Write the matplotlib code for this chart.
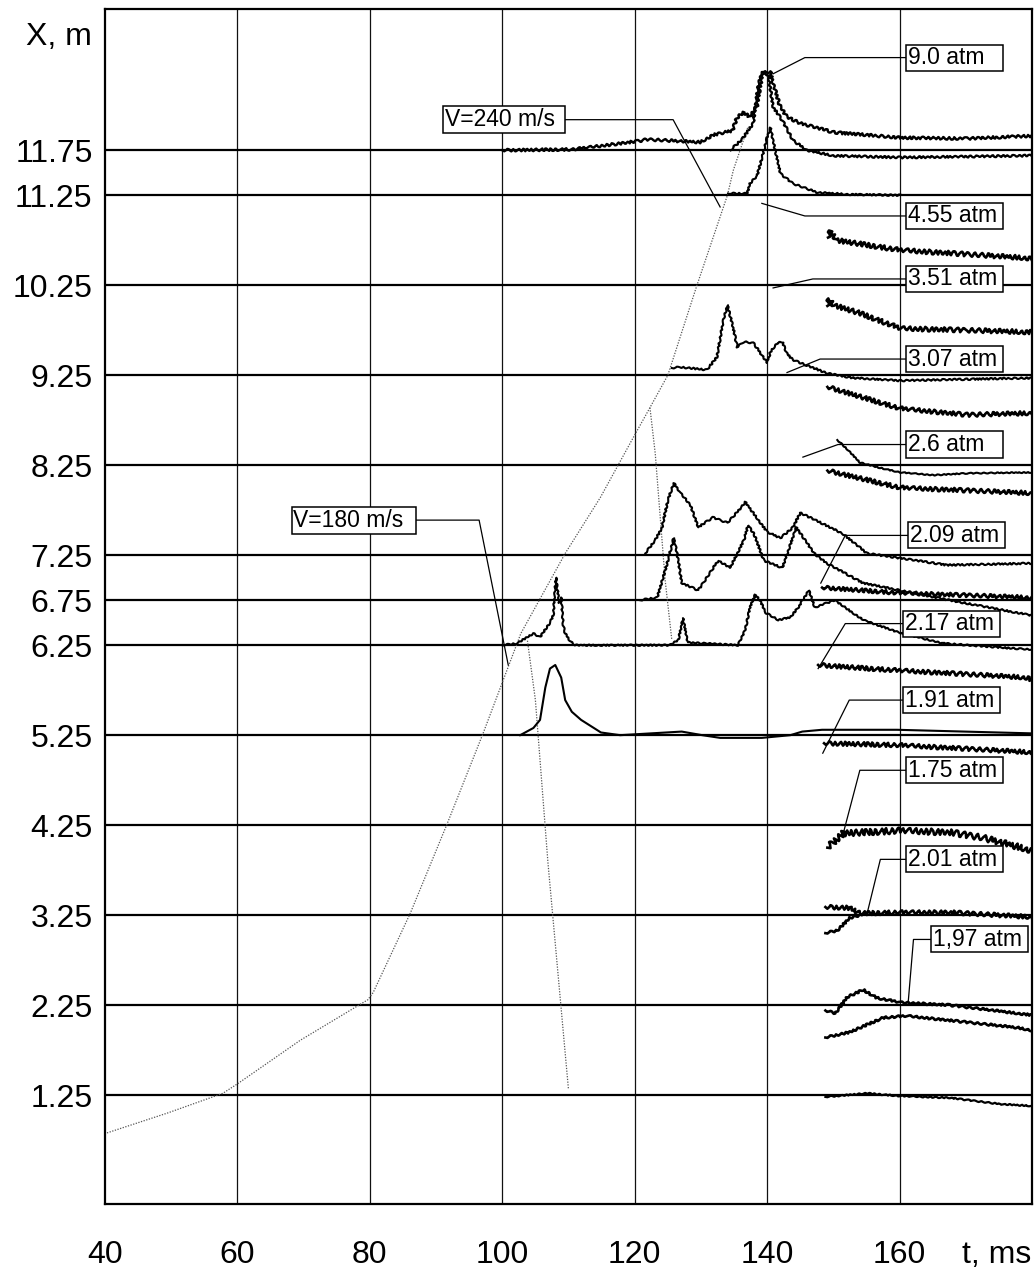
import matplotlib
matplotlib.use("Agg")
import matplotlib.pyplot as plt
from matplotlib.patches import Rectangle

plt.rcParams["font.family"] = ["Liberation Sans", "DejaVu Sans"]

# ---- data (t in ms, X in m) -------------------------------------------------
baselines = [11.75, 11.25, 10.25, 9.25, 8.25, 7.25, 6.75, 6.25, 5.25, 4.25, 3.25, 2.25, 1.25]
ytick_labels = ["11.75", "11.25", "10.25", "9.25", "8.25", "7.25", "6.75", "6.25",
                "5.25", "4.25", "3.25", "2.25", "1.25"]
xticks = [40, 60, 80, 100, 120, 140, 160]
xgrid = [60, 80, 100, 120, 140, 160]

# dotted trajectories
traj_240_t = [40.3, 49.4, 57.8, 60.1, 69.5, 79.7, 80.5, 86.1, 91.7, 97.1, 102.8, 109.5,
              114.8, 119.8, 122.3, 125.0, 129.4, 134.0, 134.9, 137.1]
traj_240_x = [0.83, 1.05, 1.27, 1.38, 1.86, 2.31, 2.39, 3.27, 4.27, 5.27, 6.38, 7.27,
              7.89, 8.56, 8.89, 9.25, 10.25, 11.25, 11.53, 12.01]
refl_upper_t = [122.3, 123.1, 124.6, 125.6]
refl_upper_x = [8.89, 8.38, 6.97, 6.31]
refl_lower_t = [103.8, 105.0, 106.9, 110.0]
refl_lower_x = [6.30, 5.64, 3.83, 1.31]

# pressure traces
tr_a_t = [100, 110.7, 120.4, 121.9, 129.9, 131.8, 134.8, 135.4, 136.4, 137.4, 138.5, 138.9,
          139.4, 140.5, 140.9, 142.0, 143.0, 145.0, 150.0, 160.1, 170.2, 180]
tr_a_x = [11.75, 11.76, 11.85, 11.87, 11.84, 11.92, 11.97, 12.11, 12.17, 12.12, 12.25, 12.45,
          12.62, 12.62, 12.49, 12.23, 12.12, 12.05, 11.95, 11.89, 11.88, 11.91]
tr_b_t = [134.5, 136.4, 137.9, 138.6, 139.2, 140.2, 140.9, 142.3, 143.9, 146.0, 150.0, 160.1, 180]
tr_b_x = [11.75, 11.89, 12.05, 12.45, 12.62, 12.58, 12.23, 12.08, 11.86, 11.75, 11.69, 11.67, 11.69]
tr_c_t = [134.1, 137.0, 137.4, 138.5, 139.4, 140.0, 140.5, 140.9, 142.0, 143.9, 147.6, 152.5, 160.1]
tr_c_x = [11.27, 11.27, 11.38, 11.47, 11.72, 11.89, 12.0, 11.86, 11.49, 11.38, 11.28, 11.26, 11.25]
tr_d_t = [125.6, 126.9, 130.9, 132.4, 133.4, 134.0, 134.7, 135.5, 136.4, 137.9, 140.0, 140.5,
          141.5, 142.3, 143.0, 143.9, 146.0, 149.1, 153.0, 160.1, 180]
tr_d_x = [9.33, 9.34, 9.31, 9.45, 9.86, 10.03, 9.83, 9.56, 9.62, 9.61, 9.39, 9.51,
          9.61, 9.62, 9.49, 9.42, 9.36, 9.27, 9.22, 9.19, 9.22]
tr_e_t = [150.6, 152.2, 154.0, 157.1, 160.1, 165.1, 170.2, 180]
tr_e_x = [8.53, 8.42, 8.28, 8.22, 8.17, 8.14, 8.16, 8.17]
tr_f_t = [121.6, 123.1, 124.1, 125.0, 125.9, 126.9, 128.4, 129.6, 131.8, 134.0, 135.5, 136.7,
          137.9, 140.0, 142.0, 143.9, 145.0, 147.3, 151.4, 155.1, 159.9, 167.2, 180]
tr_f_x = [7.27, 7.42, 7.55, 7.86, 8.05, 7.94, 7.81, 7.56, 7.67, 7.61, 7.73, 7.84,
          7.72, 7.51, 7.44, 7.56, 7.72, 7.64, 7.49, 7.27, 7.22, 7.14, 7.16]
tr_g_t = [120.8, 123.4, 124.6, 125.9, 126.6, 127.1, 129.6, 132.6, 134.4, 136.5, 137.1, 138.0,
          139.5, 142.3, 144.4, 147.1, 149.0, 154.5, 167.6, 180]
tr_g_x = [6.75, 6.78, 7.08, 7.44, 7.19, 6.94, 6.86, 7.19, 7.11, 7.42, 7.58, 7.49,
          7.19, 7.11, 7.56, 7.27, 7.16, 6.94, 6.75, 6.58]
tr_h_t = [100.0, 102.2, 104.7, 105.7, 107.1, 107.7, 108.1, 108.6, 108.9, 109.2, 109.5, 110.2,
          111.0, 125.3, 126.6, 127.3, 128.0, 135.6, 136.7, 137.4, 138.2, 138.9, 139.8, 141.7,
          143.5, 144.7, 146.3, 147.2, 150.2, 154.5, 159.9, 166.6, 180]
tr_h_x = [6.25, 6.27, 6.38, 6.34, 6.49, 6.58, 7.0, 6.72, 6.78, 6.47, 6.38, 6.30,
          6.25, 6.25, 6.31, 6.55, 6.28, 6.25, 6.42, 6.67, 6.81, 6.75, 6.61, 6.53,
          6.56, 6.67, 6.86, 6.67, 6.75, 6.53, 6.39, 6.27, 6.20]
tr_i_t = [102.7, 104.7, 105.7, 106.5, 107.2, 108.0, 108.9, 109.5, 110.5, 111.9, 114.9, 117.8,
          127.1, 130.2, 132.9, 139.2, 143.5, 145.3, 148.3, 159.6, 180]
tr_i_x = [5.25, 5.33, 5.42, 5.78, 5.99, 6.03, 5.89, 5.64, 5.51, 5.42, 5.28, 5.25,
          5.29, 5.25, 5.22, 5.22, 5.25, 5.29, 5.31, 5.31, 5.27]

# noisy records starting near t = 150 ms
n1_t = [149.2, 149.6, 150.5, 160.1, 180]
n1_x = [10.78, 10.85, 10.75, 10.64, 10.55]
n2_t = [149.1, 149.4, 150.0, 154.0, 160.1, 170.2, 180]
n2_x = [10.02, 10.10, 10.03, 9.94, 9.77, 9.75, 9.73]
n3_t = [149.1, 160.1, 170.2, 180]
n3_x = [9.12, 8.88, 8.81, 8.83]
n4_t = [149.1, 160.1, 180]
n4_x = [8.19, 8.0, 7.94]
n4b_t = [148.3, 160.1, 180]
n4b_x = [6.89, 6.83, 6.78]
n5_t = [147.7, 151.5, 159.6, 179.4, 180]
n5_x = [6.03, 6.01, 5.97, 5.89, 5.86]
n6_t = [148.6, 159.6, 180]
n6_x = [5.16, 5.14, 5.06]
n7_t = [149.1, 151.5, 160.1, 167.6, 172.6, 180]
n7_x = [4.0, 4.16, 4.19, 4.17, 4.11, 3.97]
n8_t = [148.8, 152.5, 154.0, 160.1, 167.6, 180]
n8_x = [3.34, 3.33, 3.27, 3.28, 3.28, 3.23]
n9_t = [148.8, 150.6, 152.5, 154.0]
n9_x = [3.05, 3.08, 3.22, 3.25]
n10_t = [148.8, 150.3, 152.1, 154.5, 156.6, 160.1, 167.6, 180]
n10_x = [2.19, 2.16, 2.34, 2.42, 2.33, 2.28, 2.25, 2.14]
n11_t = [148.8, 152.5, 157.5, 161.1, 167.6, 177.8, 180]
n11_x = [1.89, 1.95, 2.11, 2.13, 2.08, 2.0, 1.97]
n12_t = [148.8, 155.1, 160.1, 167.6, 175.2, 180]
n12_x = [1.23, 1.27, 1.24, 1.22, 1.15, 1.13]

# annotation boxes: text, box left t, box centre X, leader path (t list, X list)
labels = [
    ("9.0 atm", 161.0, 12.78, [161.0, 145.7, 140.9], [12.78, 12.78, 12.60]),
    ("4.55 atm", 161.0, 11.02, [161.0, 145.7, 139.2], [11.02, 11.02, 11.16]),
    ("3.51 atm", 161.0, 10.32, [161.0, 146.9, 140.9], [10.32, 10.32, 10.22]),
    ("3.07 atm", 161.0, 9.43, [161.0, 148.0, 143.0], [9.43, 9.43, 9.28]),
    ("2.6 atm", 161.0, 8.48, [161.0, 150.7, 145.4], [8.48, 8.48, 8.34]),
    ("2.09 atm", 161.3, 7.47, [161.3, 151.8, 148.1], [7.47, 7.47, 6.94]),
    ("2.17 atm", 160.5, 6.49, [160.5, 151.8, 147.7], [6.49, 6.49, 5.99]),
    ("1.91 atm", 160.5, 5.64, [160.5, 152.4, 148.4], [5.64, 5.64, 5.05]),
    ("1.75 atm", 161.0, 4.86, [161.0, 154.0, 151.5], [4.86, 4.86, 4.16]),
    ("2.01 atm", 161.0, 3.87, [161.0, 157.1, 155.1], [3.87, 3.87, 3.27]),
    ("1,97 atm", 164.8, 2.98, [164.8, 162.1, 161.3], [2.98, 2.98, 2.28]),
]
speed_labels = [
    ("V=240 m/s", 91.1, 18.4, 12.09, [109.5, 125.8, 132.9], [12.09, 12.09, 11.12]),
    ("V=180 m/s", 68.2, 18.8, 7.64, [87.0, 96.5, 100.9], [7.64, 7.64, 6.03]),
]

# ---- figure ----------------------------------------------------------------
fig = plt.figure(figsize=(10.35, 12.70), dpi=100)
ax = fig.add_axes([105 / 1035, 1 - 1204 / 1270, 927 / 1035, 1195 / 1270])
ax.set_xlim(40, 180)
ax.set_ylim(0.04, 13.32)

for v in xgrid:
    ax.axvline(v, color="#111111", lw=0.9, zorder=1)
for b in baselines:
    ax.axhline(b, color="black", lw=1.6, zorder=1)

dot_style = dict(color="#555555", lw=0.9, ls=(0, (1, 1.2)), zorder=2)
ax.plot(traj_240_t, traj_240_x, **dot_style)
ax.plot(refl_upper_t, refl_upper_x, **dot_style)
ax.plot(refl_lower_t, refl_lower_x, **dot_style)

# (t, x, linewidth, sketch scale)
traces = [
    (tr_a_t, tr_a_x, 1.7, 1.3), (tr_b_t, tr_b_x, 1.6, 1.0), (tr_c_t, tr_c_x, 1.5, 0.8),
    (tr_d_t, tr_d_x, 1.5, 0.8), (tr_e_t, tr_e_x, 1.5, 0.5), (tr_f_t, tr_f_x, 1.5, 0.8),
    (tr_g_t, tr_g_x, 1.5, 0.8), (tr_h_t, tr_h_x, 1.5, 0.7), (tr_i_t, tr_i_x, 1.5, 0.0),
    (n1_t, n1_x, 1.9, 2.2), (n2_t, n2_x, 1.9, 2.2), (n3_t, n3_x, 1.9, 2.0),
    (n4_t, n4_x, 1.9, 2.0), (n4b_t, n4b_x, 1.9, 1.8), (n5_t, n5_x, 1.9, 2.0),
    (n6_t, n6_x, 1.9, 2.0), (n7_t, n7_x, 1.9, 3.0), (n8_t, n8_x, 1.9, 2.0),
    (n9_t, n9_x, 1.9, 1.0), (n10_t, n10_x, 1.9, 1.0), (n11_t, n11_x, 1.9, 1.0),
    (n12_t, n12_x, 1.6, 0.6),
]
for t, x, lw, noise in traces:
    (ln,) = ax.plot(t, x, color="black", lw=lw, zorder=3, solid_joinstyle="round")
    if noise > 0:
        ln.set_sketch_params(scale=noise, length=6, randomness=2.5)

# labelled boxes with leader lines
box_w, box_h = 14.65, 0.29
for text, left, xc, lt, lx in labels:
    ax.plot(lt, lx, color="black", lw=0.9, zorder=4)
    ax.add_patch(Rectangle((left, xc - box_h / 2), box_w, box_h, facecolor="white",
                           edgecolor="black", lw=1.1, zorder=5))
    ax.text(left + 0.25, xc, text, ha="left", va="center", fontsize=16.5, zorder=6)
for text, left, w, xc, lt, lx in speed_labels:
    ax.plot(lt, lx, color="black", lw=0.9, zorder=4)
    ax.add_patch(Rectangle((left, xc - 0.15), w, 0.30, facecolor="white",
                           edgecolor="black", lw=1.1, zorder=5))
    ax.text(left + 0.25, xc, text, ha="left", va="center", fontsize=16.5, zorder=6)

ax.set_xticks(xticks)
ax.set_xticklabels([str(v) for v in xticks])
ax.set_yticks(baselines)
ax.set_yticklabels(ytick_labels)
ax.tick_params(axis="x", length=0, pad=26, labelsize=23)
ax.tick_params(axis="y", length=0, pad=9, labelsize=23)
for s in ax.spines.values():
    s.set_linewidth(1.6)

fig.text(92 / 1035, 1 - 37 / 1270, "X, m", ha="right", va="center", fontsize=23)
fig.text(1031 / 1035, 1 - 1263 / 1270, "t, ms", ha="right", va="baseline", fontsize=23)

fig.savefig("out.png", dpi=100)
